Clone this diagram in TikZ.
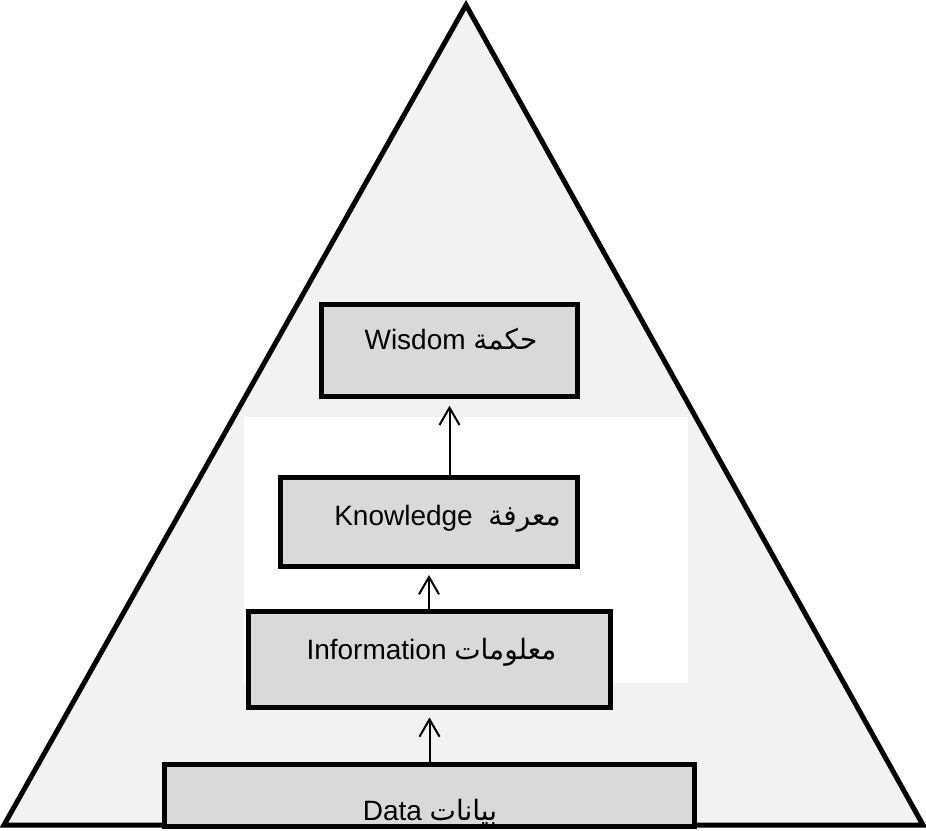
\documentclass[tikz,border=0pt]{standalone}
\usepackage{fontspec}
\setmainfont{Liberation Sans}
\newfontfamily\arabicfont[Script=Arabic]{DejaVu Sans}
\TeXXeTstate=1
\usetikzlibrary{arrows.meta}

\definecolor{pyrgray}{HTML}{F2F2F2}
\definecolor{boxgray}{HTML}{D9D9D9}

\begin{document}
\begin{tikzpicture}[x=0.75pt, y=-0.75pt,
  levelbox/.style={rectangle, draw=black, line width=3.75pt, fill=boxgray, inner sep=0pt},
  lbl/.style={anchor=base, inner sep=0pt, font=\fontsize{21}{25}\selectfont},
  flow/.style={-{Straight Barb[length=13pt, width=15pt]}, line width=1.5pt}]
  \useasboundingbox (0,0) rectangle (926,831);
  % pyramid and the white panel behind the middle levels
  \fill[pyrgray] (466,5) -- (923,825) -- (4,825) -- cycle;
  \fill[white] (244,417) rectangle (688,683);
  \draw[line width=3.75pt] (466,5) -- (923,825) -- (4,825) -- cycle;
  % levels
  \node[levelbox, minimum width=192pt, minimum height=69pt] (wisdom) at (449.5,350.5) {};
  \node[levelbox, minimum width=222.75pt, minimum height=66.75pt] (knowledge) at (429,522) {};
  \node[levelbox, minimum width=271.5pt, minimum height=72pt] (information) at (429.5,659.5) {};
  \node[levelbox, minimum width=397.5pt, minimum height=46.5pt] (data) at (429.5,795) {};
  % labels
  \node[lbl] (wisdomlbl) at (451,350) {Wisdom {\arabicfont\beginR حكمة\endR}};
  \node[lbl] (knowledgelbl) at (447.5,525) {Knowledge\ \ {\arabicfont\beginR معرفة\endR}};
  \node[lbl] (informationlbl) at (431.5,659) {Information {\arabicfont\beginR معلومات\endR}};
  \node[lbl] (datalbl) at (430,820) {Data {\arabicfont\beginR بيانات\endR}};
  % arrows
  \draw[flow, shorten >=5pt] (wisdom.south |- knowledge.north) -- (wisdom.south);
  \draw[flow, shorten >=4.5pt] (knowledge.south |- information.north) -- (knowledge.south);
  \draw[flow, shorten >=5.5pt] (information.south |- data.north) -- (information.south);
\end{tikzpicture}
\end{document}
